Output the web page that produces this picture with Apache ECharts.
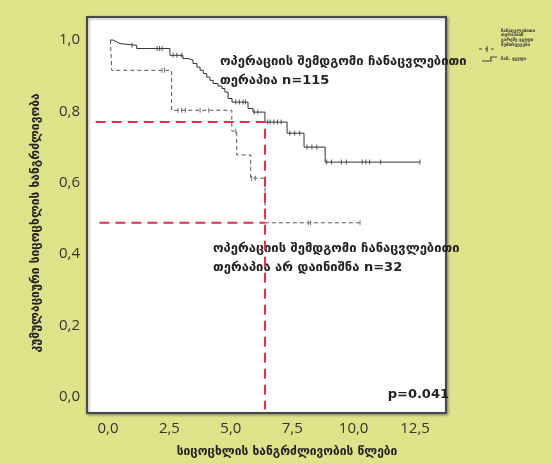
<!DOCTYPE html>
<html>
<head>
<meta charset="utf-8">
<script src="https://cdn.jsdelivr.net/npm/echarts@6/dist/echarts.min.js"></script>
<style>
  html, body { margin: 0; padding: 0; background: #dee289; }
  #chart { width: 552px; height: 464px; }
</style>
</head>
<body>
<div id="chart"></div>
<script>
// Kaplan–Meier curves: event times (years) and survival after each event
const treatedTimes = [0.1, 0.2, 0.35, 0.49, 1.17, 2.52, 3.05, 3.26, 3.46, 3.62, 3.75, 3.88, 4.02, 4.15, 4.28, 4.48, 4.64, 4.76, 4.89, 5.05, 5.7, 5.9, 6.39, 7.29, 7.98, 8.84, 12.7];
const treatedSurv  = [1.0, 0.995, 0.99, 0.985, 0.976, 0.957, 0.948, 0.944, 0.934, 0.924, 0.915, 0.906, 0.896, 0.887, 0.878, 0.871, 0.864, 0.854, 0.836, 0.826, 0.808, 0.798, 0.770, 0.739, 0.700, 0.658, 0.658];
const treatedCensored = [0.98, 2.0, 2.1, 2.2, 2.65, 2.8, 3.0, 5.2, 5.35, 5.5, 5.6, 5.95, 6.1, 6.5, 6.6, 6.75, 6.9, 7.05, 7.4, 7.6, 7.8, 8.1, 8.3, 8.5, 8.9, 9.1, 9.5, 9.7, 10.35, 10.5, 10.65, 11.1, 12.7];

const untreatedTimes = [0.1, 0.15, 2.59, 5.04, 5.24, 5.81, 6.39, 10.26];
const untreatedSurv  = [1.0, 0.915, 0.803, 0.745, 0.678, 0.613, 0.488, 0.488];
const untreatedCensored = [2.2, 2.3, 2.85, 3.0, 3.15, 3.75, 4.1, 5.2, 5.85, 6.0, 8.15, 8.25, 10.26];

// Reference guides: time point and survival
const refTime = 6.39;
const refTreated = 0.77;
const refUntreated = 0.488;

const xTicks = [0, 2.5, 5, 7.5, 10, 12.5];
const yTicks = [0, 0.2, 0.4, 0.6, 0.8, 1.0];

const GEO = '"DejaVu Sans", sans-serif';

function survAt(times, surv, t) {
  let s = surv[0];
  for (let i = 0; i < times.length; i++) { if (times[i] <= t) s = surv[i]; }
  return s;
}
const pairs = (a, b) => a.map((v, i) => [v, b[i]]);
const comma = v => v.toFixed(1).replace('.', ',');

const chart = echarts.init(document.getElementById('chart'), null, { renderer: 'canvas' });

chart.setOption({
  backgroundColor: '#dee289',
  animation: false,
  grid: {
    left: 87, top: 17, width: 359, height: 396,
    show: true, backgroundColor: '#ffffff', borderColor: '#4a4a4a', borderWidth: 2,
    shadowColor: 'rgba(0,0,0,0.35)', shadowBlur: 3, shadowOffsetX: 1, shadowOffsetY: 1
  },
  xAxis: {
    type: 'value', min: -0.855, max: 13.76,
    axisLine: { show: false }, axisTick: { show: false }, splitLine: { show: false },
    axisLabel: {
      customValues: xTicks, formatter: v => comma(v),
      fontFamily: '"Open Sans", sans-serif', fontSize: 15, color: '#333', margin: 8
    }
  },
  yAxis: {
    type: 'value', min: -0.0448, max: 1.0644,
    axisLine: { show: false }, axisTick: { show: false }, splitLine: { show: false },
    axisLabel: {
      customValues: yTicks, formatter: v => comma(v),
      fontFamily: '"Open Sans", sans-serif', fontSize: 15, color: '#333', margin: 7
    }
  },
  series: [
    {
      name: 'untreated', type: 'line', step: 'end', symbol: 'none',
      data: pairs(untreatedTimes, untreatedSurv),
      lineStyle: { color: '#555', width: 1, type: [4, 3] }, z: 2
    },
    {
      name: 'untreated-censored', type: 'scatter', symbol: 'rect', symbolSize: [1, 5],
      data: untreatedCensored.map(t => [t, survAt(untreatedTimes, untreatedSurv, t)]),
      itemStyle: { color: '#555' }, z: 2
    },
    {
      name: 'treated', type: 'line', step: 'end', symbol: 'none',
      data: pairs(treatedTimes, treatedSurv),
      lineStyle: { color: '#333', width: 1 }, z: 3
    },
    {
      name: 'treated-censored', type: 'scatter', symbol: 'rect', symbolSize: [1, 5],
      data: treatedCensored.map(t => [t, survAt(treatedTimes, treatedSurv, t)]),
      itemStyle: { color: '#333' }, z: 3
    },
    {
      name: 'guide-treated', type: 'line', symbol: 'none',
      data: [[-0.5, refTreated], [refTime, refTreated], [refTime, -0.035]],
      lineStyle: { color: '#e5304a', width: 2, type: [10, 6] }, z: 4
    },
    {
      name: 'guide-untreated', type: 'line', symbol: 'none',
      data: [[-0.35, refUntreated], [refTime, refUntreated]],
      lineStyle: { color: '#e5304a', width: 2, type: [10, 6] }, z: 4
    }
  ],
  graphic: [
    { type: 'text', left: 220, top: 52, style: { text: 'ოპერაციის შემდგომი ჩანაცვლებითი\nთერაპია n=115', font: 'bold 13px ' + GEO, fill: '#222', lineHeight: 19 } },
    { type: 'text', left: 213, top: 239, style: { text: 'ოპერაციის შემდგომი ჩანაცვლებითი\nთერაპია არ დაინიშნა n=32', font: 'bold 13px ' + GEO, fill: '#222', lineHeight: 19 } },
    { type: 'text', x: 449, y: 395, style: { text: 'p=0.041', font: 'bold 13px ' + GEO, fill: '#222', align: 'right', verticalAlign: 'middle' } },
    { type: 'text', x: 287, y: 452, style: { text: 'სიცოცხლის ხანგრძლივობის წლები', font: 'bold 12px ' + GEO, fill: '#222', align: 'center', verticalAlign: 'middle' } },
    { type: 'text', x: 36, y: 223, rotation: Math.PI / 2, style: { text: 'კუმულაციური სიცოცხლის ხანგრძლივობა', font: 'bold 12px ' + GEO, fill: '#222', align: 'center', verticalAlign: 'middle' } },
    // legend
    { type: 'line', shape: { x1: 479, y1: 49, x2: 495, y2: 49 }, style: { stroke: '#444', lineWidth: 1, lineDash: [3, 3] } },
    { type: 'line', shape: { x1: 487, y1: 46, x2: 487, y2: 52 }, style: { stroke: '#444', lineWidth: 1 } },
    { type: 'text', left: 501, top: 28, style: { text: 'ჩანაცვლებითი\nთერაპიის\nგარეშე ჯგუფი\nშემთხვევები', font: 'bold 4.5px ' + GEO, fill: '#333', lineHeight: 4.8 } },
    { type: 'polyline', shape: { points: [[482, 61], [491, 61], [491, 57], [497, 57]] }, style: { stroke: '#444', lineWidth: 1.2, fill: null } },
    { type: 'text', left: 501, top: 56, style: { text: 'ჩან. ჯგუფი', font: 'bold 4.5px ' + GEO, fill: '#333' } }
  ]
});
</script>
</body>
</html>
